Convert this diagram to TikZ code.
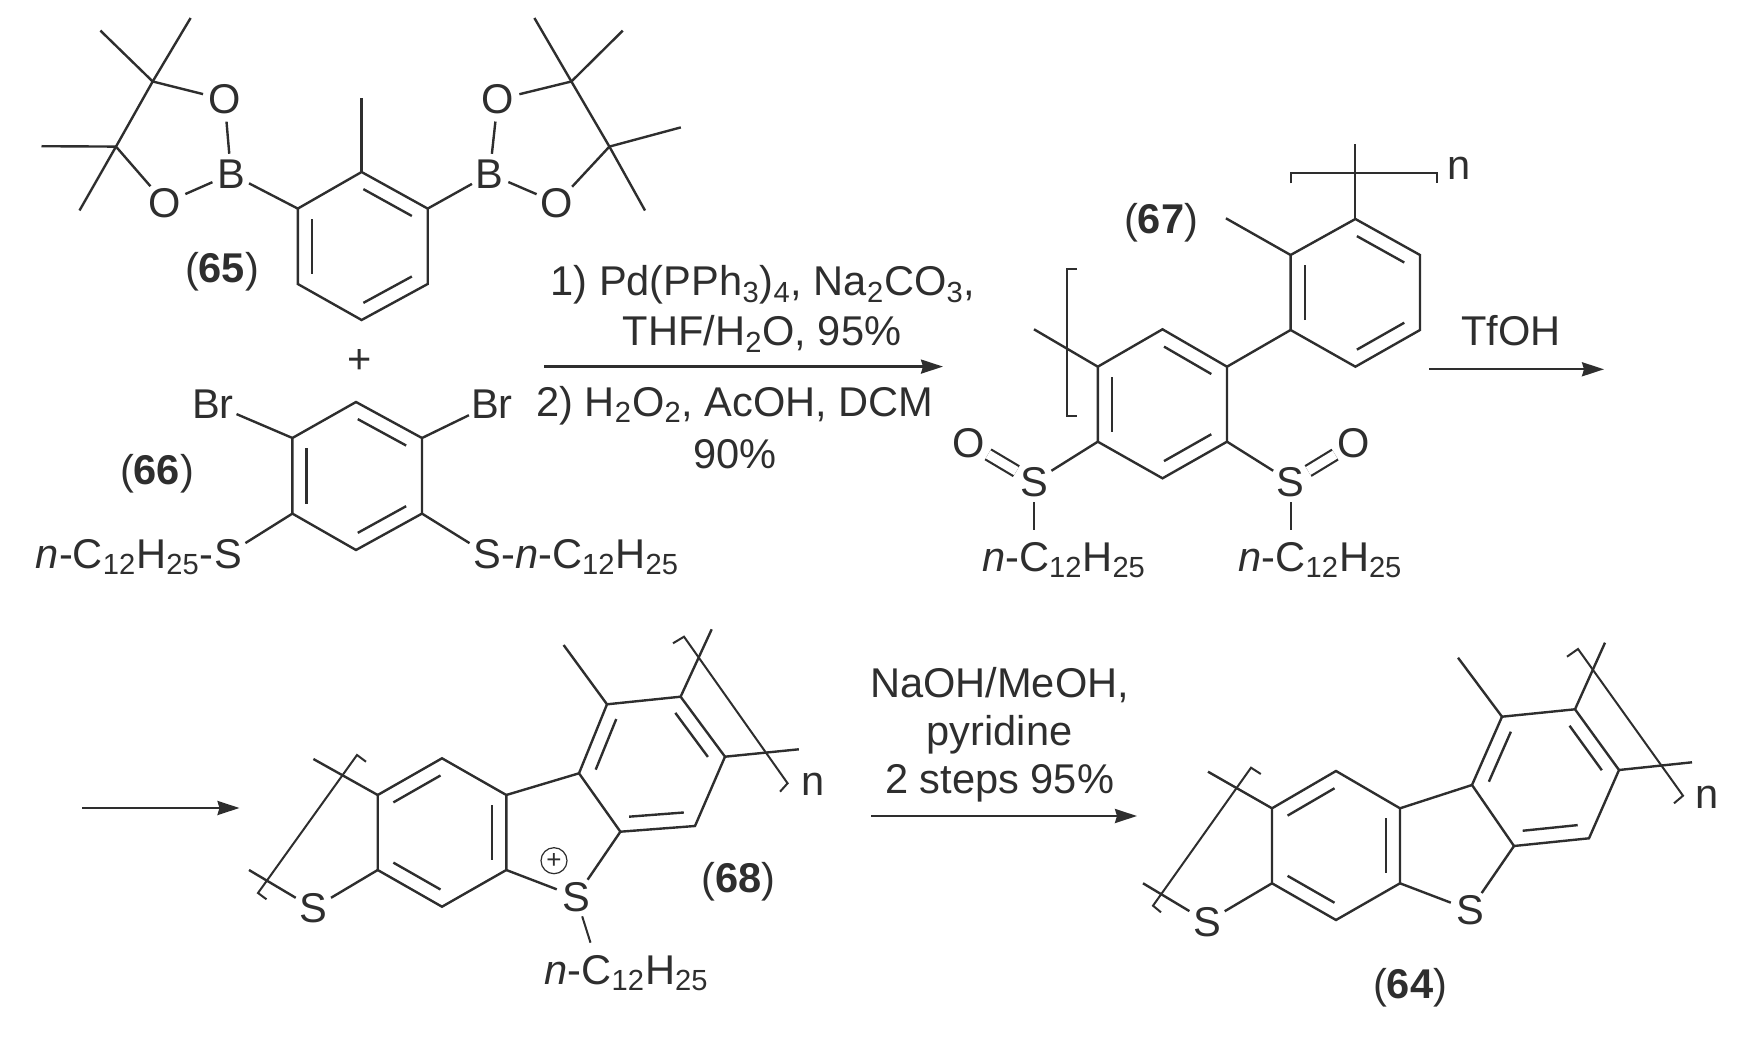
\documentclass[tikz,border=0pt]{standalone}
\usepackage{fontspec}
\setmainfont{Liberation Sans}
\usetikzlibrary{positioning}
\usetikzlibrary{calc}
\usetikzlibrary{arrows.meta}
\definecolor{ink}{gray}{0.18}
\tikzset{%
  bond/.style = {draw=ink,line width=1.2pt,line join=miter},
  thinbond/.style = {draw=ink,line width=1pt},
  dblbond/.style = {draw=ink,line width=1.1pt,double=white,double distance=4.6pt},
  brack/.style = {draw=ink,line width=1pt},
  rxnarrow/.style = {draw=ink,line width=1.2pt,-{Stealth[length=11pt,width=7pt,inset=1pt]}},
  atom/.style = {circle,inner sep=0pt,text=ink,font=\fontsize{20.8}{24}\selectfont},
  chemtext/.style = {inner sep=0pt,anchor=base,text=ink,font=\fontsize{20.8}{24}\selectfont},
  charge/.style = {circle,draw=ink,line width=0.6pt,inner sep=0pt,minimum size=13pt,
        text=ink,font=\fontsize{13}{13}\selectfont}
}
\newcommand{\alkyl}{\textit{n}-C\textsubscript{12}H\textsubscript{25}}
\newcommand{\innerbond}[3]{\draw[bond] ($(#1)!0.03!(#2)!0.22!(#3)$) -- ($(#2)!0.03!(#1)!0.22!(#3)$);}

\begin{document}
\begin{tikzpicture}[x=0.5pt,y=-0.5pt]
   \useasboundingbox (0,0) rectangle (1747,1043);

   % compound 65
   \coordinate (a1) at (361.6,172); \coordinate (a2) at (427.7,208.6);
   \coordinate (a3) at (427.7,284); \coordinate (a4) at (361.6,320);
   \coordinate (a5) at (297.8,284); \coordinate (a6) at (297.8,208.6);
   \coordinate (actr) at (362.7,246);
   \coordinate (ame) at (361.6,97.6);
   \coordinate (pl1) at (152.7,81.5); \coordinate (pl2) at (116,146.6);
   \coordinate (pr1) at (571.4,81.5); \coordinate (pr2) at (609.4,146.6);
   \coordinate (ml1) at (100.4,30.6); \coordinate (ml2) at (190.6,18);
   \coordinate (ml3) at (41.5,146.2); \coordinate (ml4) at (79.5,210.5);
   \coordinate (mr1) at (534.4,18); \coordinate (mr2) at (622.8,30.6);
   \coordinate (mr3) at (680.8,127.4); \coordinate (mr4) at (645,210.5);
   \node[atom] (bl) at (231,174) {B};
   \node[atom] (br) at (489.7,174) {B};
   \node[atom] (ol1) at (224.6,99.5) {O};
   \node[atom] (ol2) at (165,203) {O};
   \node[atom] (or1) at (497.8,99.5) {O};
   \node[atom] (or2) at (557,203) {O};
   \node[chemtext] (lab65) at (222,283) {(\textbf{65})};
   \node[chemtext] (plus) at (360,373) {+};

   \draw[bond] (a1) -- (a2) -- (a3) -- (a4) -- (a5) -- (a6) -- cycle;
   \innerbond{a1}{a2}{actr}
   \innerbond{a3}{a4}{actr}
   \innerbond{a5}{a6}{actr}
   \draw[bond] (a1) -- (ame);
   \draw[bond] (a6) -- (bl);
   \draw[bond] (a2) -- (br);
   \draw[bond] (bl) -- (ol1) -- (pl1) -- (pl2) -- (ol2) -- (bl);
   \draw[bond] (br) -- (or1) -- (pr1) -- (pr2) -- (or2) -- (br);
   \draw[bond] (pl1) -- (ml1);
   \draw[bond] (pl1) -- (ml2);
   \draw[bond] (pl2) -- (ml3);
   \draw[bond] (pl2) -- (ml4);
   \draw[bond] (pr1) -- (mr1);
   \draw[bond] (pr1) -- (mr2);
   \draw[bond] (pr2) -- (mr3);
   \draw[bond] (pr2) -- (mr4);

   % compound 66
   \coordinate (b1) at (356,402); \coordinate (b2) at (422,438);
   \coordinate (b3) at (422,513.6); \coordinate (b4) at (356,550);
   \coordinate (b5) at (292.4,513.6); \coordinate (b6) at (292.4,438);
   \coordinate (bctr) at (357,476);
   \node[atom] (brl) at (213,404) {Br};
   \node[atom] (brr) at (492,404) {Br};
   \node[atom] (sl) at (228,554) {S};
   \node[atom] (sr) at (487,554) {S};
   \node[chemtext,base left=-3.3pt of sl] (tl) {\alkyl-};
   \node[chemtext,base right=-3.3pt of sr] (tr) {-\alkyl};
   \node[chemtext] (lab66) at (157,484) {(\textbf{66})};

   \draw[bond] (b1) -- (b2) -- (b3) -- (b4) -- (b5) -- (b6) -- cycle;
   \innerbond{b1}{b2}{bctr}
   \innerbond{b3}{b4}{bctr}
   \innerbond{b5}{b6}{bctr}
   \draw[bond] (b6) -- (brl);
   \draw[bond] (b2) -- (brr);
   \draw[bond] (b5) -- (sl);
   \draw[bond] (b3) -- (sr);

   % first arrow
   \coordinate (arr1a) at (544,366.6); \coordinate (arr1b) at (943,366.6);
   \draw[rxnarrow] (arr1a) -- (arr1b);
   \node[chemtext] (reag1) at (763,296) {1) Pd(PPh\textsubscript{3})\textsubscript{4}, Na\textsubscript{2}CO\textsubscript{3},};
   \node[chemtext] (reag2) at (762,346) {THF/H\textsubscript{2}O, 95\%};
   \node[chemtext] (reag3) at (735,416) {2) H\textsubscript{2}O\textsubscript{2}, AcOH, DCM};
   \node[chemtext] (reag4) at (735,468) {90\%};

   % compound 67
   \coordinate (c1) at (1162.5,329.3); \coordinate (c2) at (1227,366.7);
   \coordinate (c3) at (1227,441.7); \coordinate (c4) at (1162.5,478.3);
   \coordinate (c5) at (1097.8,441.7); \coordinate (c6) at (1097.8,366.7);
   \coordinate (cctr) at (1162.5,404);
   \coordinate (d1) at (1355.4,219); \coordinate (d2) at (1420,255);
   \coordinate (d3) at (1420,330); \coordinate (d4) at (1355.4,366.7);
   \coordinate (d5) at (1290.6,330); \coordinate (d6) at (1290.6,255);
   \coordinate (dctr) at (1355.4,293);
   \coordinate (dme) at (1225.9,218.3);
   \coordinate (dend) at (1355.4,144);
   \coordinate (cend) at (1034,329.3);
   \coordinate (rb1) at (1290.6,183.3); \coordinate (rb2) at (1290.6,172.7);
   \coordinate (rb3) at (1437,172.7); \coordinate (rb4) at (1437,183.3);
   \coordinate (lb1) at (1077,269.3); \coordinate (lb2) at (1067.4,269.3);
   \coordinate (lb3) at (1067.4,415.7); \coordinate (lb4) at (1077,415.7);
   \node[atom] (s1) at (1034,481.7) {S};
   \node[atom] (s2) at (1290.6,481.7) {S};
   \node[atom] (o1) at (969,443) {O};
   \node[atom] (o2) at (1354,443) {O};
   \node[chemtext] (alk1) at (1064,571) {\alkyl};
   \node[chemtext] (alk2) at (1320.5,571) {\alkyl};
   \coordinate (alk1top) at (1034,530); \coordinate (alk2top) at (1290.6,530);
   \node[chemtext] (lab67) at (1161,234) {(\textbf{67})};
   \node[chemtext] (n67) at (1459,179.3) {n};

   \draw[bond] (c1) -- (c2) -- (c3) -- (c4) -- (c5) -- (c6) -- cycle;
   \innerbond{c1}{c2}{cctr}
   \innerbond{c3}{c4}{cctr}
   \innerbond{c5}{c6}{cctr}
   \draw[bond] (d1) -- (d2) -- (d3) -- (d4) -- (d5) -- (d6) -- cycle;
   \innerbond{d1}{d2}{dctr}
   \innerbond{d3}{d4}{dctr}
   \innerbond{d5}{d6}{dctr}
   \draw[bond] (c2) -- (d5);
   \draw[bond] (d6) -- (dme);
   \draw[thinbond] (d1) -- (dend);
   \draw[bond] (c6) -- (cend);
   \draw[bond] (c5) -- (s1);
   \draw[bond] (c3) -- (s2);
   \draw[dblbond] (s1) -- (o1);
   \draw[dblbond] (s2) -- (o2);
   \draw[thinbond] (s1) -- (alk1top);
   \draw[thinbond] (s2) -- (alk2top);
   \draw[brack] (rb1) -- (rb2) -- (rb3) -- (rb4);
   \draw[brack] (lb1) -- (lb2) -- (lb3) -- (lb4);

   % second arrow
   \coordinate (arr2a) at (1429,369.3); \coordinate (arr2b) at (1604,369.3);
   \draw[rxnarrow] (arr2a) -- (arr2b);
   \node[chemtext] (reag5) at (1510.7,346) {TfOH};
   \coordinate (arr3a) at (82.4,808); \coordinate (arr3b) at (239.5,808);
   \draw[rxnarrow] (arr3a) -- (arr3b);

   % compound 68
   \coordinate (e1) at (442,758.3); \coordinate (e2) at (506.3,795);
   \coordinate (e3) at (506.3,870); \coordinate (e4) at (442,906.7);
   \coordinate (e5) at (377.7,870); \coordinate (e6) at (377.7,795);
   \coordinate (ectr) at (442,832.5);
   \coordinate (f1) at (579,773.3); \coordinate (f2) at (607,704.3);
   \coordinate (f3) at (680.6,696.7); \coordinate (f4) at (725,756.7);
   \coordinate (f5) at (695,826); \coordinate (f6) at (620.4,831.7);
   \coordinate (fctr) at (652,764);
   \coordinate (fme) at (563.6,645);
   \coordinate (fend1) at (711.7,629.3);
   \coordinate (fend2) at (798.8,749.3);
   \coordinate (eend1) at (313.4,759);
   \coordinate (eend2) at (249,870);
   \coordinate (rc1) at (673,643.3); \coordinate (rc2) at (684,636.7);
   \coordinate (rc3) at (787.6,783.3); \coordinate (rc4) at (780,791.7);
   \coordinate (lc1) at (366,761.7); \coordinate (lc2) at (357,755);
   \coordinate (lc3) at (258,893); \coordinate (lc4) at (266.5,899.3);
   \node[atom] (s3) at (313.4,908.3) {S};
   \node[atom] (s4) at (576,896.7) {S};
   \node[charge] (chg) at (554,860.7) {+};
   \node[chemtext] (alk3) at (626.6,984) {\alkyl};
   \coordinate (alk3top) at (590.5,942.7);
   \node[chemtext] (lab68) at (738.7,892) {(\textbf{68})};
   \node[chemtext] (n68) at (813.4,795.7) {n};

   \draw[bond] (e1) -- (e2) -- (e3) -- (e4) -- (e5) -- (e6) -- cycle;
   \innerbond{e6}{e1}{ectr}
   \innerbond{e2}{e3}{ectr}
   \innerbond{e4}{e5}{ectr}
   \draw[bond] (f1) -- (f2) -- (f3) -- (f4) -- (f5) -- (f6) -- cycle;
   \innerbond{f1}{f2}{fctr}
   \innerbond{f3}{f4}{fctr}
   \innerbond{f5}{f6}{fctr}
   \draw[bond] (e2) -- (f1);
   \draw[bond] (e3) -- (s4);
   \draw[bond] (f6) -- (s4);
   \draw[bond] (e5) -- (s3);
   \draw[bond] (s3) -- (eend2);
   \draw[bond] (e6) -- (eend1);
   \draw[bond] (f2) -- (fme);
   \draw[bond] (f3) -- (fend1);
   \draw[bond] (f4) -- (fend2);
   \draw[thinbond] (s4) -- (alk3top);
   \draw[brack] (rc1) -- (rc2) -- (rc3) -- (rc4);
   \draw[brack] (lc1) -- (lc2) -- (lc3) -- (lc4);

   % third arrow
   \coordinate (arr4a) at (871,816); \coordinate (arr4b) at (1137,816);
   \draw[rxnarrow] (arr4a) -- (arr4b);
   \node[chemtext] (reag6) at (999.6,697) {NaOH/MeOH,};
   \node[chemtext] (reag7) at (999.6,745) {pyridine};
   \node[chemtext] (reag8) at (999.6,793) {2 steps 95\%};

   % compound 64
   \coordinate (g1) at (1336,771); \coordinate (g2) at (1400,808.3);
   \coordinate (g3) at (1400,883.3); \coordinate (g4) at (1336,920);
   \coordinate (g5) at (1272,883.3); \coordinate (g6) at (1272,808.3);
   \coordinate (gctr) at (1336,845.5);
   \coordinate (h1) at (1472,785); \coordinate (h2) at (1502,716.7);
   \coordinate (h3) at (1575,709.3); \coordinate (h4) at (1619,770);
   \coordinate (h5) at (1589,838.3); \coordinate (h6) at (1514,846);
   \coordinate (hctr) at (1545.5,777.5);
   \coordinate (hme) at (1458,657.7);
   \coordinate (hend1) at (1605,642.7);
   \coordinate (hend2) at (1692,762.3);
   \coordinate (gend1) at (1208,771.7);
   \coordinate (gend2) at (1143,883.3);
   \coordinate (rd1) at (1567,656.7); \coordinate (rd2) at (1578,649);
   \coordinate (rd3) at (1683,795.7); \coordinate (rd4) at (1674,803.3);
   \coordinate (ld1) at (1260.8,774); \coordinate (ld2) at (1251,767.7);
   \coordinate (ld3) at (1153,905.7); \coordinate (ld4) at (1161,912.3);
   \node[atom] (s5) at (1207,921.7) {S};
   \node[atom] (s6) at (1470,910) {S};
   \node[chemtext] (lab64) at (1410,998) {(\textbf{64})};
   \node[chemtext] (n64) at (1707,808) {n};

   \draw[bond] (g1) -- (g2) -- (g3) -- (g4) -- (g5) -- (g6) -- cycle;
   \innerbond{g6}{g1}{gctr}
   \innerbond{g2}{g3}{gctr}
   \innerbond{g4}{g5}{gctr}
   \draw[bond] (h1) -- (h2) -- (h3) -- (h4) -- (h5) -- (h6) -- cycle;
   \innerbond{h1}{h2}{hctr}
   \innerbond{h3}{h4}{hctr}
   \innerbond{h5}{h6}{hctr}
   \draw[bond] (g2) -- (h1);
   \draw[bond] (g3) -- (s6);
   \draw[bond] (h6) -- (s6);
   \draw[bond] (g5) -- (s5);
   \draw[bond] (s5) -- (gend2);
   \draw[bond] (g6) -- (gend1);
   \draw[bond] (h2) -- (hme);
   \draw[bond] (h3) -- (hend1);
   \draw[bond] (h4) -- (hend2);
   \draw[brack] (rd1) -- (rd2) -- (rd3) -- (rd4);
   \draw[brack] (ld1) -- (ld2) -- (ld3) -- (ld4);
\end{tikzpicture}
\end{document}
